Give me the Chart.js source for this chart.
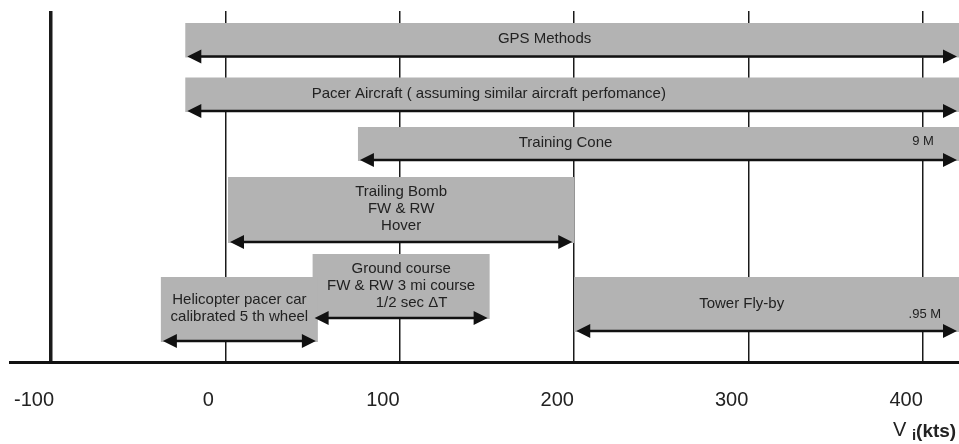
<!DOCTYPE html>
<html>
<head>
<meta charset="utf-8">
<script src="https://cdn.jsdelivr.net/npm/chart.js@4.4.1/dist/chart.umd.min.js"></script>
<style>
  body { margin: 0; background: #fff; }
  canvas { display: block; }
</style>
</head>
<body>
<canvas id="chart" width="959" height="444"></canvas>
<script>
// speed ranges (kts) covered by each calibration method
const methods = [
    "GPS Methods",
    "Pacer Aircraft ( assuming similar aircraft perfomance)",
    "Training Cone",
    "Trailing Bomb\nFW & RW\nHover",
    "Ground course\nFW & RW 3 mi course\n     1/2 sec \u0394T",
    "Helicopter pacer car\ncalibrated 5 th wheel",
    "Tower Fly-by"
];
const speedFrom = [-23, -23, 76, 1.5, 50, -37, 200];
const speedTo = [420.6, 420.6, 420.6, 200, 151.5, 53, 420.6];
// vertical lanes of the boxes (arbitrary units, 0 = axis line)
const laneTop = [33.9, 28.45, 23.5, 18.5, 10.8, 8.5, 8.5];
const laneBottom = [30.45, 25.0, 20.1, 11.9, 4.3, 2.0, 3.0];
// where the label sits along the speed axis (null = middle of the box)
const labelAt = [183, 151, 195, null, null, null, 296];
const notes = ["", "", "9 M", "", "", "", ".95 M"];
const noteAt = [null, null, 400, null, null, null, 401];
const noteLane = [null, null, 22.1, null, null, null, 4.8];
const tickValues = [-100, 0, 100, 200, 300, 400];

const FONT = '"Liberation Sans", Arial, sans-serif';

function drawArrow(ctx, x1, x2, yy) {
    const head = 14, half = 7;
    ctx.strokeStyle = "#111";
    ctx.fillStyle = "#111";
    ctx.lineWidth = 2.5;
    ctx.beginPath();
    ctx.moveTo(x1 + head - 2, yy);
    ctx.lineTo(x2 - head + 2, yy);
    ctx.stroke();
    ctx.beginPath();
    ctx.moveTo(x1, yy);
    ctx.lineTo(x1 + head, yy - half);
    ctx.lineTo(x1 + head, yy + half);
    ctx.closePath();
    ctx.fill();
    ctx.beginPath();
    ctx.moveTo(x2, yy);
    ctx.lineTo(x2 - head, yy - half);
    ctx.lineTo(x2 - head, yy + half);
    ctx.closePath();
    ctx.fill();
}

const boxPlugin = {
    id: "boxes",
    afterDatasetsDraw(chart) {
        const ctx = chart.ctx;
        const xs = chart.scales.x;
        const ys = chart.scales.y;
        const area = chart.chartArea;
        ctx.save();
        ctx.beginPath();
        ctx.rect(area.left, area.top - 2, area.right - area.left, area.bottom - area.top + 4);
        ctx.clip();

        const boxes = methods.map((m, i) => ({
            left: xs.getPixelForValue(speedFrom[i]),
            right: xs.getPixelForValue(speedTo[i]),
            top: ys.getPixelForValue(laneTop[i]),
            bottom: ys.getPixelForValue(laneBottom[i])
        }));

        ctx.fillStyle = "#b3b3b3";
        boxes.forEach(b => ctx.fillRect(b.left, b.top, b.right - b.left, b.bottom - b.top));

        boxes.forEach(b => drawArrow(ctx, Math.max(b.left + 2, area.left), Math.min(b.right - 2, area.right - 1), b.bottom - 1));

        ctx.fillStyle = "#222";
        ctx.font = "15px " + FONT;
        ctx.textAlign = "center";
        ctx.textBaseline = "middle";
        boxes.forEach((b, i) => {
            const lines = methods[i].split("\n");
            const cx = labelAt[i] === null ? (b.left + b.right) / 2 : xs.getPixelForValue(labelAt[i]);
            const cy = (b.top + b.bottom) / 2 - 1;
            const lh = 17;
            lines.forEach((line, k) => {
                ctx.fillText(line, cx, cy + (k - (lines.length - 1) / 2) * lh);
            });
            if (notes[i]) {
                ctx.font = "13px " + FONT;
                ctx.fillText(notes[i], xs.getPixelForValue(noteAt[i]), ys.getPixelForValue(noteLane[i]));
                ctx.font = "15px " + FONT;
            }
        });
        ctx.restore();
    },
    afterDraw(chart) {
        // axis title  V i (kts)
        const ctx = chart.ctx;
        const xs = chart.scales.x;
        const x0 = xs.getPixelForValue(400) - 30;
        const y0 = 430;
        ctx.save();
        ctx.fillStyle = "#222";
        ctx.textAlign = "left";
        ctx.textBaseline = "middle";
        ctx.font = "20px " + FONT;
        ctx.fillText("V", x0, y0);
        ctx.font = "bold 15px " + FONT;
        ctx.fillText("i", x0 + 19, y0 + 6);
        ctx.font = "bold 19px " + FONT;
        ctx.fillText("(kts)", x0 + 23, y0 + 2);
        ctx.restore();
    }
};

window.onload = function () {
    const ctx = document.getElementById("chart").getContext("2d");
    new Chart(ctx, {
        type: "scatter",
        data: { datasets: [{ data: [] }] },
        options: {
            responsive: false,
            animation: false,
            devicePixelRatio: 1,
            layout: { padding: { top: 11, left: 10, right: 0, bottom: 13 } },
            plugins: { legend: { display: false }, tooltip: { enabled: false } },
            scales: {
                x: {
                    type: "linear",
                    min: -123.5,
                    max: 420.6,
                    afterBuildTicks: axis => {
                        axis.ticks = tickValues.map(v => ({ value: v }));
                    },
                    grid: {
                        color: "#1a1a1a",
                        lineWidth: c => (c.tick && c.tick.value === -100 ? 3.5 : 1.5),
                        drawTicks: true,
                        tickLength: 7,
                        tickColor: "rgba(0,0,0,0)"
                    },
                    border: { display: true, color: "#111", width: 3 },
                    ticks: {
                        color: "#222",
                        font: { size: 20, family: FONT },
                        padding: 19,
                        labelOffset: -17,
                        maxRotation: 0,
                        autoSkip: false,
                        callback: v => String(v)
                    }
                },
                y: { type: "linear", min: 0, max: 35.1, display: false }
            }
        },
        plugins: [boxPlugin]
    });
};
</script>
</body>
</html>
